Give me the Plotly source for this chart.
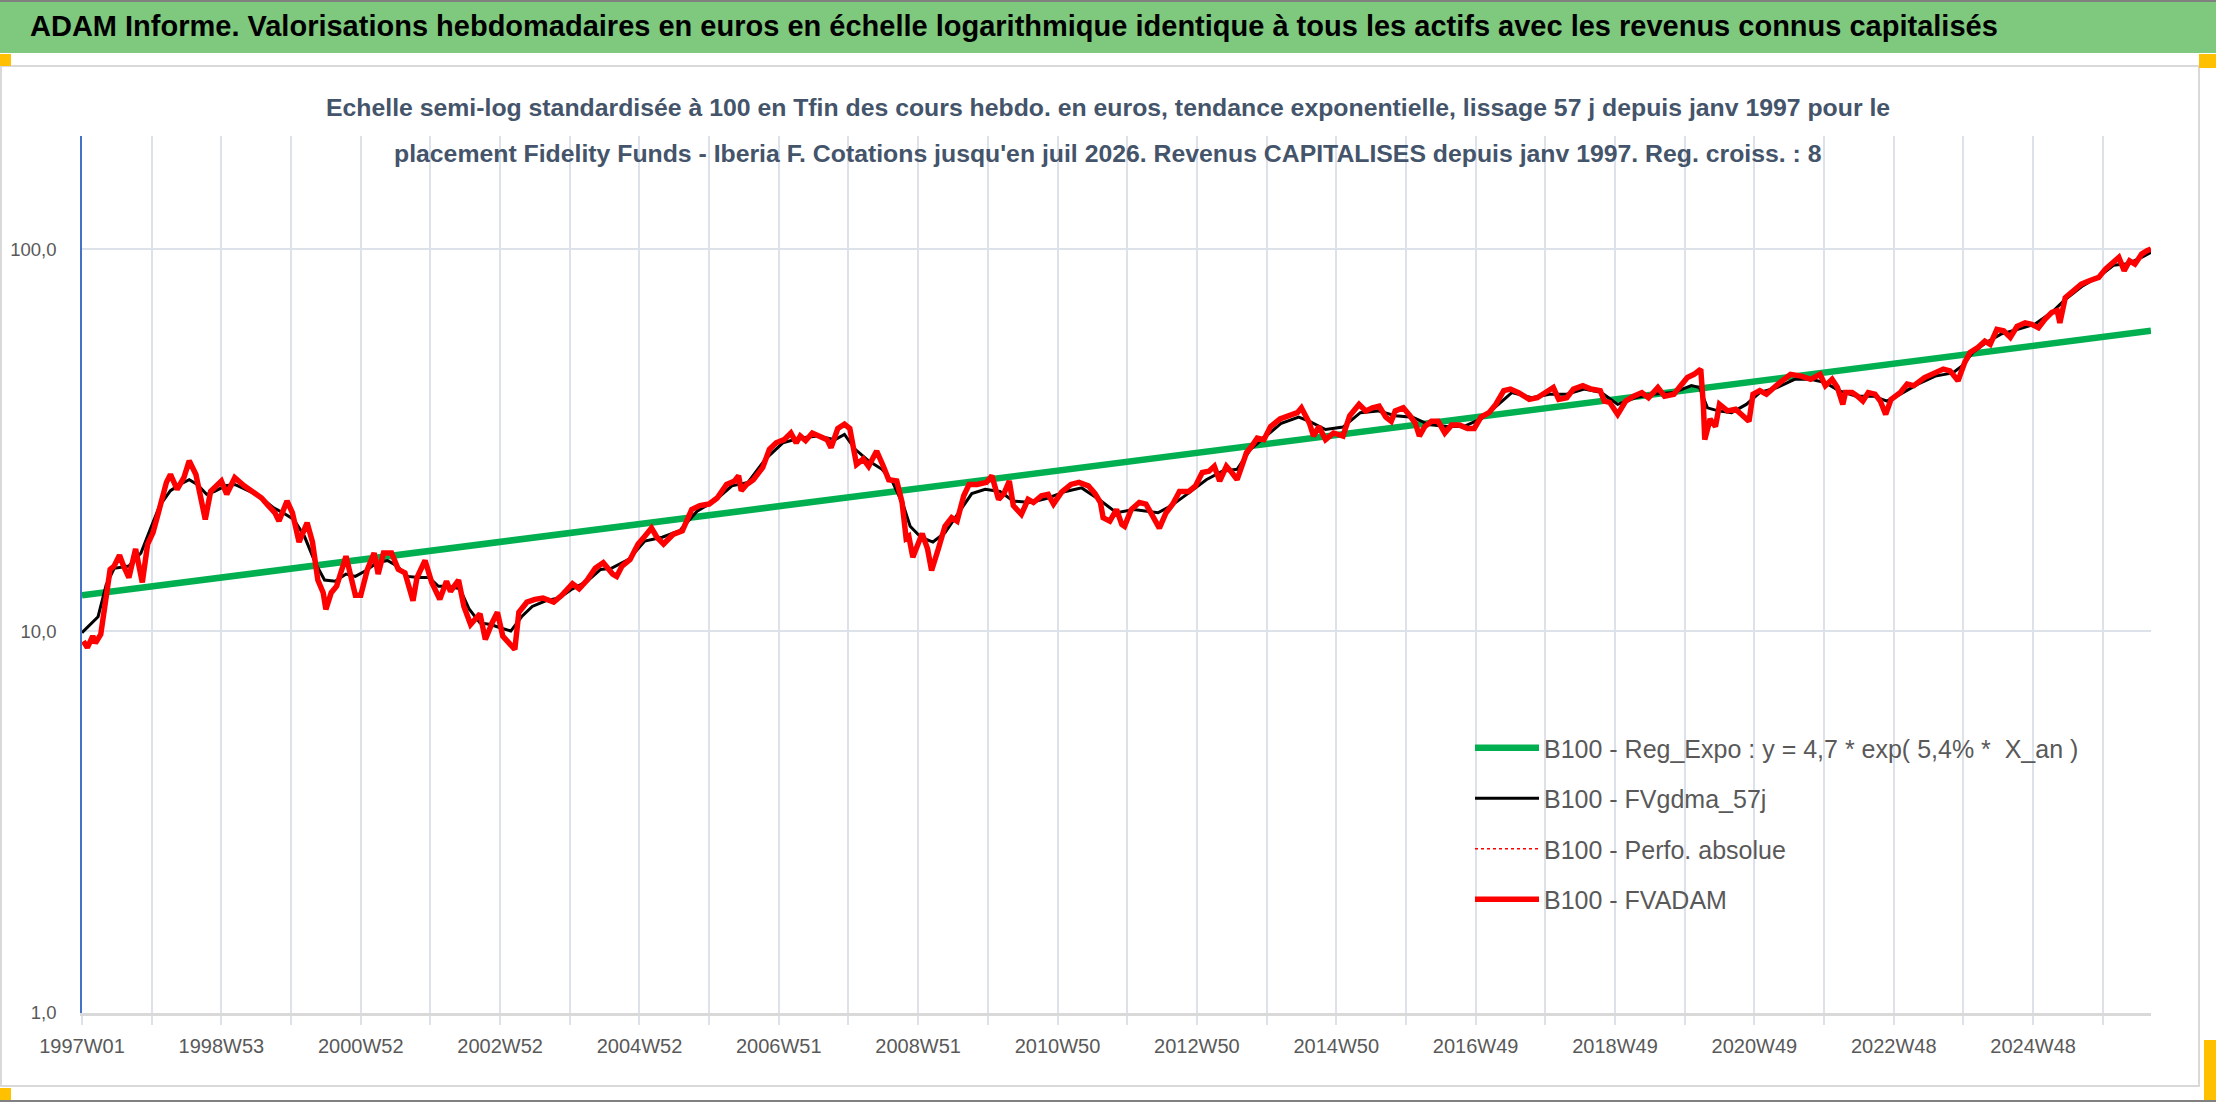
import plotly.graph_objects as go

# semaines (index depuis 1997W01) et valeurs
red_weeks = [1, 4, 8, 10, 14, 18, 21, 24, 28, 31, 35, 40, 43, 45, 49, 53, 57, 60, 63, 66, 71, 76, 80, 85, 89, 92, 96, 100,
             104, 108, 114, 121, 127, 134, 139, 144, 147, 153, 157, 162, 168, 172, 176, 180, 182, 186, 190, 197, 200,
             204, 208, 213, 218, 221, 225, 231, 236, 241, 247, 250, 256, 261, 267, 272, 275, 281, 285, 290, 297, 301,
             306, 310, 314, 319, 323, 326, 332, 338, 344, 352, 358, 366, 371, 377, 383, 389, 396, 399, 403, 409, 415,
             420, 425, 429, 434, 441, 448, 455, 461, 468, 474, 481, 487, 490, 492, 496, 501, 508, 513, 518, 524, 529,
             533, 536, 540, 545, 551, 556, 559, 564, 569, 573, 578, 583, 587, 593, 598, 602, 608, 612, 615, 617, 620,
             623, 627, 631, 634, 639, 644, 649, 653, 658, 662, 668, 675, 679, 684, 688, 692, 695, 701, 706, 710, 716,
             721, 725, 731, 738, 744, 751, 756, 760, 762, 767, 772, 776, 778, 783, 789, 794, 799, 804, 809, 814, 819,
             826, 831, 836, 841, 845, 849, 854, 858, 862, 866, 869, 873, 877, 882, 887, 894, 900, 907, 910, 916, 919,
             923, 928, 934, 941, 946, 953, 958, 963, 968, 973, 977, 980, 986, 991, 995, 998, 1002, 1007, 1012, 1017,
             1022, 1028, 1034, 1039, 1044, 1050, 1055, 1061, 1066, 1072, 1080, 1086, 1093, 1098, 1102, 1108, 1113,
             1120, 1126, 1133, 1136, 1140, 1146, 1152, 1158, 1164, 1169, 1176, 1181, 1188, 1193, 1198, 1203, 1208,
             1210, 1211, 1215, 1219, 1222, 1228, 1234, 1239, 1244, 1247, 1252, 1257, 1262, 1267, 1275, 1283, 1290,
             1297, 1301, 1306, 1310, 1314, 1316, 1321, 1325, 1329, 1333, 1338, 1342, 1346, 1350, 1357, 1362, 1367,
             1375, 1383, 1389, 1394, 1400, 1405, 1409, 1415, 1420, 1424, 1429, 1434, 1439, 1444, 1450, 1455, 1460,
             1465, 1470, 1474, 1476, 1480, 1486, 1492, 1498, 1505, 1510, 1515, 1520, 1524, 1528, 1532, 1537, 1541, 1544]
red_values = [9.4, 9.05, 9.7, 9.3, 9.8, 12.6, 14.5, 14.8, 15.8, 14.8, 13.8, 16.4, 14.8, 13.4, 16.9, 18.1, 20.4, 22.1,
              24.5, 25.7, 23.5, 25.2, 27.9, 25.7, 21.7, 19.6, 23.2, 24.0, 24.7, 22.8, 25.2, 24.0, 23.2, 22.3, 21.3,
              20.4, 19.4, 21.9, 20.4, 17.1, 19.2, 17.1, 13.6, 12.6, 11.4, 12.6, 13.1, 15.7, 14.2, 12.4, 12.4, 14.5,
              16.0, 14.1, 16.0, 16.0, 14.5, 14.2, 12.0, 13.8, 15.3, 13.4, 12.1, 13.5, 12.7, 13.6, 11.6, 10.4, 11.1,
              9.5, 10.5, 11.2, 9.7, 9.3, 8.95, 11.2, 11.9, 12.1, 12.2, 11.9, 12.4, 13.3, 12.9, 13.6, 14.6, 15.1, 14.1,
              13.9, 14.8, 15.4, 16.9, 17.7, 18.6, 17.6, 16.9, 17.9, 18.3, 20.8, 21.3, 21.5, 22.3, 24.2, 24.7, 25.5,
              23.3, 24.2, 24.9, 26.8, 29.9, 31.1, 31.7, 33.0, 31.1, 32.4, 31.5, 33.0, 32.4, 31.7, 30.2, 33.9, 34.8,
              33.9, 27.3, 28.2, 27.0, 29.6, 27.0, 24.9, 24.7, 21.7, 17.5, 17.7, 15.6, 16.7, 18.0, 16.4, 14.4, 16.4,
              18.8, 19.8, 19.4, 22.6, 24.2, 24.2, 24.5, 25.5, 22.1, 22.9, 24.7, 21.3, 20.2, 22.1, 21.7, 22.6, 22.8,
              21.5, 23.1, 24.2, 24.5, 24.0, 22.9, 21.7, 19.8, 19.4, 20.8, 19.0, 18.8, 20.8, 21.7, 21.5, 20.0, 18.6,
              20.4, 21.5, 23.2, 23.2, 24.0, 26.0, 26.2, 27.0, 24.7, 27.0, 26.0, 24.9, 27.3, 29.3, 30.5, 32.0, 31.7,
              34.3, 35.9, 36.6, 37.3, 38.4, 35.0, 32.4, 34.3, 31.7, 33.0, 32.4, 36.6, 39.2, 37.7, 38.4, 38.8, 36.3,
              35.4, 37.7, 38.4, 36.6, 35.0, 32.4, 34.3, 35.4, 35.4, 33.0, 34.6, 34.6, 33.9, 33.9, 36.3, 37.3, 39.2,
              42.6, 43.0, 42.1, 40.4, 40.8, 42.1, 43.4, 40.4, 40.8, 43.0, 43.9, 43.0, 42.6, 40.0, 39.7, 36.9, 40.0,
              41.2, 42.1, 40.8, 43.4, 41.2, 41.7, 43.9, 46.1, 47.0, 48.5, 38.8, 31.7, 35.9, 34.3, 39.2, 37.7, 38.1,
              36.9, 35.4, 41.7, 42.6, 41.7, 43.4, 44.7, 47.0, 46.5, 45.6, 47.0, 43.9, 45.6, 43.4, 39.2, 42.1, 42.1,
              41.2, 40.0, 42.1, 41.7, 40.0, 36.9, 40.4, 42.1, 44.3, 43.9, 46.1, 47.4, 48.5, 48.0, 45.2, 50.5, 53.6,
              55.3, 57.4, 56.3, 61.6, 61.1, 58.7, 62.7, 64.1, 63.5, 62.2, 65.6, 68.3, 69.0, 64.1, 74.6, 77.8, 80.9,
              82.6, 84.3, 88.6, 92.2, 95.1, 87.8, 93.1, 91.3, 97.0, 99.0, 100.0]

black_weeks = [0, 12, 18, 24, 35, 44, 51, 58, 66, 73, 80, 86, 93, 99, 107, 114, 122, 132, 143, 150, 158, 166, 174, 181,
               189, 197, 204, 212, 220, 228, 235, 243, 251, 259, 266, 274, 282, 289, 297, 305, 312, 320, 328, 336, 346,
               356, 366, 377, 387, 395, 408, 420, 433, 446, 459, 472, 485, 497, 510, 523, 536, 549, 562, 569, 577, 587,
               597, 605, 613, 618, 626, 635, 644, 654, 664, 674, 685, 695, 708, 721, 734, 746, 759, 772, 785, 803, 813,
               826, 839, 851, 862, 872, 882, 895, 908, 916, 928, 941, 954, 967, 980, 993, 1005, 1018, 1031, 1044, 1057,
               1067, 1082, 1095, 1108, 1121, 1134, 1146, 1159, 1172, 1188, 1201, 1207, 1213, 1221, 1231, 1242, 1252,
               1265, 1278, 1290, 1301, 1311, 1324, 1337, 1347, 1357, 1370, 1383, 1396, 1403, 1411, 1421, 1432, 1444,
               1457, 1470, 1480, 1493, 1506, 1516, 1527, 1537, 1544]
black_values = [9.9, 10.9, 13.2, 14.6, 14.8, 16.0, 18.5, 21.3, 23.3, 24.2, 24.9, 24.2, 22.8, 23.2, 24.0, 24.2, 23.5,
                22.6, 21.0, 20.4, 19.6, 17.7, 15.1, 13.6, 13.5, 14.1, 13.9, 14.4, 15.1, 15.3, 14.8, 13.9, 13.8, 13.8,
                13.1, 13.1, 12.9, 11.4, 10.5, 10.4, 10.2, 10.0, 10.9, 11.6, 12.0, 12.2, 12.9, 13.5, 14.5, 14.6, 15.4,
                17.2, 17.6, 18.3, 20.6, 21.9, 24.0, 24.5, 28.2, 31.1, 32.0, 32.4, 31.7, 32.7, 29.9, 27.9, 26.5, 24.5,
                21.3, 18.8, 17.6, 17.1, 18.1, 20.4, 22.9, 23.5, 23.2, 21.9, 21.7, 22.3, 23.2, 23.7, 22.1, 20.4, 20.8,
                20.4, 21.3, 23.0, 24.9, 26.2, 26.5, 29.9, 32.0, 35.0, 36.3, 35.4, 33.7, 34.2, 37.3, 37.7, 36.6, 36.3,
                34.7, 34.3, 34.3, 35.9, 39.2, 42.1, 40.8, 41.7, 41.7, 43.0, 42.1, 39.2, 40.8, 41.7, 42.1, 43.9, 43.4,
                38.4, 37.7, 37.3, 39.2, 42.1, 43.4, 45.6, 45.6, 44.7, 42.6, 41.2, 41.2, 40.0, 41.7, 44.3, 46.5, 47.4,
                49.4, 53.6, 56.9, 59.9, 61.6, 63.5, 68.3, 73.8, 80.1, 85.1, 90.7, 91.6, 95.1, 98.0]

trend_weeks = [0, 1544]
trend_values = [12.4, 61.1]

tick_labels = ['1997W01', '1998W53', '2000W52', '2002W52', '2004W52', '2006W51', '2008W51', '2010W50',
               '2012W50', '2014W50', '2016W49', '2018W49', '2020W49', '2022W48', '2024W48']

W, H = 2216, 1102
L, R, T, B = 82, 2151, 136, 1013
FONT = 'Liberation Sans, Arial, sans-serif'
GRID = '#dde2ea'


def px(x):
    return (x - L) / (R - L)


def py(y):
    return (B - y) / (B - T)


fig = go.Figure()
fig.add_trace(go.Scatter(x=trend_weeks, y=trend_values, mode='lines', legendgroup='a',
                         name='B100 - Reg_Expo : y = 4,7 * exp( 5,4% *  X_an )',
                         line=dict(color='#00b050', width=6.5)))
fig.add_trace(go.Scatter(x=black_weeks, y=black_values, mode='lines', legendgroup='b',
                         name='B100 - FVgdma_57j', line=dict(color='black', width=3)))
fig.add_trace(go.Scatter(x=red_weeks, y=red_values, mode='lines', legendgroup='c',
                         name='B100 - Perfo. absolue', line=dict(color='red', width=1.5, dash='dot')))
fig.add_trace(go.Scatter(x=red_weeks, y=red_values, mode='lines', legendgroup='d',
                         name='B100 - FVADAM', line=dict(color='red', width=5.5)))

grid_vals = list(range(0, 1544, 52))
grid_text = [tick_labels[i // 2] if i % 2 == 0 else '' for i in range(len(grid_vals))]

fig.update_layout(
    width=W, height=H,
    margin=dict(l=L, r=W - R, t=T, b=H - B, pad=0, autoexpand=False),
    paper_bgcolor='white', plot_bgcolor='white',
    font=dict(family=FONT, color='#595959'),
    xaxis=dict(range=[0, 1544], tickmode='array', tickvals=grid_vals, ticktext=grid_text,
               showgrid=True, gridcolor=GRID, gridwidth=2, zeroline=False, automargin=False,
               showline=True, linecolor='#d9d9d9', linewidth=3,
               ticks='outside', ticklen=9, tickwidth=2, tickcolor=GRID,
               tickfont=dict(size=20, color='#595959'), ticklabelstandoff=4),
    yaxis=dict(type='log', range=[0, 2.296], tickmode='array', tickvals=[1, 10, 100],
               ticktext=['1,0', '10,0', '100,0'], showgrid=True, gridcolor=GRID, gridwidth=2,
               zeroline=False, automargin=False, showline=True, linecolor='#4472c4', linewidth=1.5,
               tickfont=dict(size=18.5, color='#595959'), ticklabelstandoff=20),
    legend=dict(x=px(1470), y=py(725), xanchor='left', yanchor='top', traceorder='grouped',
                tracegroupgap=15, itemwidth=64, bgcolor='rgba(0,0,0,0)',
                font=dict(size=25, color='#595959', family=FONT)),
    showlegend=True,
)

# bandeau vert et cadre du graphique
shapes = [
    dict(type='rect', x0=px(0), x1=px(W), y0=py(0), y1=py(53), fillcolor='#7ec97e', line=dict(width=0)),
    dict(type='rect', x0=px(0), x1=px(W), y0=py(0), y1=py(2), fillcolor='#808080', line=dict(width=0)),
    dict(type='rect', x0=px(1), x1=px(2199), y0=py(66), y1=py(1086), line=dict(color='#d9d9d9', width=2)),
    dict(type='rect', x0=px(0), x1=px(W), y0=py(1100), y1=py(W), fillcolor='#808080', line=dict(width=0)),
    dict(type='rect', x0=px(0), x1=px(11), y0=py(54), y1=py(66), fillcolor='#ffc000', line=dict(width=0)),
    dict(type='rect', x0=px(2199), x1=px(W), y0=py(54), y1=py(68), fillcolor='#ffc000', line=dict(width=0)),
    dict(type='rect', x0=px(0), x1=px(11), y0=py(1088), y1=py(1100), fillcolor='#ffc000', line=dict(width=0)),
    dict(type='rect', x0=px(2204), x1=px(W), y0=py(1040), y1=py(1100), fillcolor='#ffc000', line=dict(width=0)),
]
for s in shapes:
    s.update(xref='paper', yref='paper', layer='below')
fig.update_layout(shapes=shapes)

fig.add_annotation(x=px(28), y=py(26), xref='paper', yref='paper', xanchor='left', yanchor='middle',
                   showarrow=False, text='<b>ADAM Informe. Valorisations hebdomadaires en euros en échelle logarithmique '
                                         'identique à tous les actifs avec les revenus connus capitalisés</b>',
                   font=dict(size=29, color='black', family=FONT))
fig.add_annotation(x=px(W / 2), y=py(108), xref='paper', yref='paper', xanchor='center', yanchor='middle',
                   showarrow=False, text='<b>Echelle semi-log standardisée à 100 en Tfin des cours hebdo. en euros, '
                                         'tendance exponentielle, lissage 57 j depuis janv 1997 pour le</b>',
                   font=dict(size=24.8, color='#44546a', family=FONT))
fig.add_annotation(x=px(W / 2), y=py(154), xref='paper', yref='paper', xanchor='center', yanchor='middle',
                   showarrow=False, text="<b>placement Fidelity Funds - Iberia F. Cotations jusqu'en juil 2026. "
                                         "Revenus CAPITALISES depuis janv 1997. Reg. croiss. : 8</b>",
                   font=dict(size=24.8, color='#44546a', family=FONT))

fig.write_html('out.html', config={'displayModeBar': False},
               post_script="document.body.style.margin='0';")
